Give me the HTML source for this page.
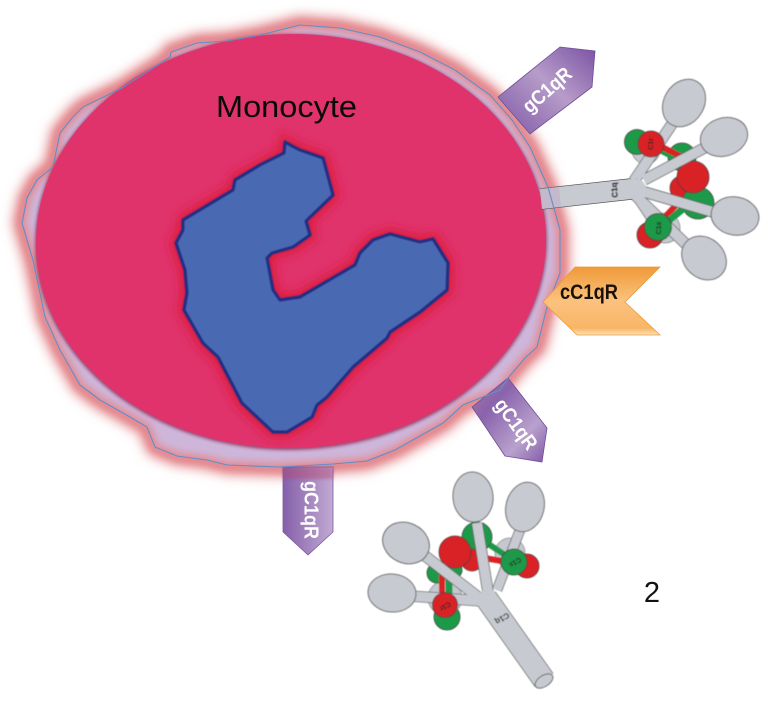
<!DOCTYPE html>
<html><head><meta charset="utf-8">
<style>html,body{margin:0;padding:0;background:#fff}svg{display:block}</style></head>
<body>
<svg width="768" height="702" viewBox="0 0 768 702" xmlns="http://www.w3.org/2000/svg" style="font-family:'Liberation Sans',sans-serif">
<defs>
<filter id="b8" x="-20%" y="-20%" width="140%" height="140%"><feGaussianBlur stdDeviation="6"/></filter>
<filter id="b4" x="-20%" y="-20%" width="140%" height="140%"><feGaussianBlur stdDeviation="3.5"/></filter>
<filter id="b3" x="-20%" y="-20%" width="140%" height="140%"><feGaussianBlur stdDeviation="5"/></filter>
<filter id="s1" x="-20%" y="-20%" width="140%" height="140%"><feGaussianBlur stdDeviation="1.5"/></filter>
<filter id="soft" x="-5%" y="-5%" width="110%" height="110%"><feGaussianBlur stdDeviation=".5"/></filter>
<linearGradient id="p1" x1="0" y1="1" x2="1" y2="0"><stop offset="0" stop-color="#7d57a6"/><stop offset=".55" stop-color="#b79cc9"/><stop offset="1" stop-color="#7b53a3"/></linearGradient>
<linearGradient id="p2" x1="0" y1="0" x2="1" y2="0"><stop offset="0" stop-color="#8560aa"/><stop offset=".6" stop-color="#a98cc2"/><stop offset="1" stop-color="#c1aad3"/></linearGradient>
<linearGradient id="p3" x1="0" y1="0" x2="1" y2="1"><stop offset="0" stop-color="#a5739f"/><stop offset=".3" stop-color="#8a63ad"/><stop offset=".7" stop-color="#b9a1cd"/><stop offset="1" stop-color="#8058a8"/></linearGradient>
<linearGradient id="o1" x1="0" y1="0" x2="0" y2="1"><stop offset="0" stop-color="#f09a38"/><stop offset=".5" stop-color="#fbc27e"/><stop offset=".9" stop-color="#f8b566"/><stop offset="1" stop-color="#fde3b8"/></linearGradient>
<path id="outer" d="M300 25L260 35L227 41L197 43L171 52L170 57L122 88L83 107L72 118L60 133L53 167L37 180L27 198L22 223L33 260L45 317L60 350L80 385L100 400L130 417L147 427L155 447L177 456L207 460L227 465L280 467L333 464L367 461L395 450L443 423L463 405L500 390L508 378L525 358L537 347L547 307L560 273L560 230L548 187L530 147L512 120L490 95L455 70L420 52L380 37L340 28Z"/>
</defs>

<!-- outer membrane glow -->
<use href="#outer" fill="#e58a8c" stroke="#e07c80" stroke-width="18" filter="url(#b8)"/>
<use href="#outer" fill="#cdb6da" filter="url(#s1)"/>
<use href="#outer" fill="none" stroke="#e58a92" stroke-width="9" filter="url(#b4)" opacity=".85"/>

<!-- receptors -->
<polygon points="283,467 333,467 333,532 308,555 283,532" fill="url(#p2)" stroke="#7a5aa0" stroke-width=".8"/>
<rect x="283" y="467" width="50" height="12" fill="#b5446f" opacity=".45" filter="url(#s1)"/>
<polygon points="472,407 508,378 547,428 542,462 505,456" fill="url(#p3)" stroke="#6d4f98" stroke-width=".8"/>
<polygon points="498,97 560,47 595,51 592,87 530,134" fill="url(#p1)" stroke="#6d4f98" stroke-width=".8"/>

<!-- cell body -->
<ellipse cx="291" cy="242" rx="256" ry="208" fill="#8a1e48" opacity=".75" filter="url(#s1)" transform="rotate(-1 291 242)"/>
<ellipse cx="291" cy="241" rx="255" ry="207" fill="#e0336c" transform="rotate(-1 291 241)"/>

<!-- right C1q stem under the membrane line -->
<path d="M541 199L640 188" fill="none" stroke="#555" stroke-width="21.4"/>
<path d="M541 199L640 188" fill="none" stroke="#c7cad1" stroke-width="20"/>
<path d="M541 199L560 197" fill="none" stroke="#c0a9c9" stroke-width="20" opacity=".55"/>

<!-- outer blue line -->
<use href="#outer" fill="none" stroke="#5f8fc8" stroke-width="1.1"/>

<!-- nucleus -->
<path d="M285 142L284 153L235 180L233 190L183 220L183 230L176 243L185 270L187 293L184 310L203 343L218 357L242 403L273 432L287 432L312 417L317 405L327 397L353 367L387 338L390 332L420 312L447 290L448 263L433 239L420 242L390 234L373 240L360 253L355 265L300 297L280 300L273 290L267 258L272 253L293 247L310 235L306 221L333 195L323 158L300 150L292 146Z" fill="#dc1f3c" stroke="#dc1f3c" stroke-width="12" filter="url(#b3)"/>
<path d="M285 142L284 153L260 165L235 180L233 190L183 220L183 230L176 243L185 270L187 293L184 310L203 343L218 357L242 403L273 432L287 432L312 417L317 405L327 397L353 367L387 338L390 332L420 312L447 290L448 263L433 239L420 242L390 234L373 240L360 253L355 265L300 297L280 300L273 290L267 258L272 253L293 247L310 235L306 221L333 195L323 158L300 150L292 146Z" fill="#4a69b3" stroke="#232f85" stroke-width="3.2" stroke-linejoin="round" filter="url(#soft)"/>

<!-- labels -->
<text x="216" y="117" font-size="31" textLength="141" lengthAdjust="spacingAndGlyphs" fill="#0a0a0a">Monocyte</text>
<text x="652" y="602" font-size="29" text-anchor="middle" fill="#111">2</text>

<text transform="translate(548 91) rotate(-41)" font-size="20" font-weight="bold" fill="#fff" text-anchor="middle" dominant-baseline="middle" textLength="58" lengthAdjust="spacingAndGlyphs">gC1qR</text>
<text transform="translate(515 425) rotate(54)" font-size="20" font-weight="bold" fill="#fff" text-anchor="middle" dominant-baseline="middle" textLength="58" lengthAdjust="spacingAndGlyphs">gC1qR</text>
<text transform="translate(310 510) rotate(90)" font-size="20" font-weight="bold" fill="#fff" text-anchor="middle" dominant-baseline="middle" textLength="58" lengthAdjust="spacingAndGlyphs">gC1qR</text>

<!-- cC1qR -->
<polygon points="575,267 660,267 625,302 660,335 577,335 543,302" fill="url(#o1)" stroke="#e99a3c" stroke-width=".8"/>
<text x="560" y="299" font-size="21" font-weight="bold" fill="#1a1208" textLength="58" lengthAdjust="spacingAndGlyphs">cC1qR</text>

<!-- right C1q -->
<g filter="url(#soft)">
<g stroke="#3a3a3a" stroke-width=".8">
<circle cx="646" cy="150" r="14" fill="#c5c8cf" stroke="#888"/>
<circle cx="665" cy="228" r="15" fill="#c5c8cf" stroke="#888"/>
<circle cx="637" cy="142" r="12.5" fill="#1f9a48"/>
<circle cx="682" cy="157" r="14" fill="#1f9a48"/>
<path d="M658 148L682 160" stroke="#1f9a48" stroke-width="8"/>
<path d="M658 145L682 157" stroke="#d92127" stroke-width="6"/>
<circle cx="682" cy="188" r="12" fill="#d92127"/>
<circle cx="698" cy="203" r="16" fill="#1f9a48"/>
<circle cx="693" cy="177" r="16" fill="#d92127"/>
<path d="M664 218L678 203" stroke="#d92127" stroke-width="6"/>
<path d="M667 222L684 208" stroke="#1f9a48" stroke-width="7"/>
</g>
<g fill="none" stroke="#555">
<path d="M636 178L676 118" stroke-width="11.4"/>
<path d="M644 180L708 146" stroke-width="11.4"/>
<path d="M641 191L713 212" stroke-width="11.4"/>
<path d="M635 195L692 250" stroke-width="11.4"/>
<path d="M632 180L662 136" stroke-width="7"/>
<path d="M636 198L664 240" stroke-width="7"/>
</g>
<g fill="none" stroke="#c7cad1">
<path d="M636 178L676 118" stroke-width="10"/>
<path d="M644 180L708 146" stroke-width="10"/>
<path d="M641 191L713 212" stroke-width="10"/>
<path d="M635 195L692 250" stroke-width="10"/>
<path d="M632 180L662 136" stroke-width="5.6"/>
<path d="M636 198L664 240" stroke-width="5.6"/>
</g>
<circle cx="636" cy="189" r="10" fill="#c7cad1"/>
<g fill="#c7cad1" stroke="#6a6a6a" stroke-width="1">
<ellipse cx="684" cy="103" rx="25" ry="20" transform="rotate(-58 684 103)"/>
<ellipse cx="724" cy="137" rx="24" ry="19" transform="rotate(-18 724 137)"/>
<ellipse cx="735" cy="216" rx="24" ry="19" transform="rotate(10 735 216)"/>
<ellipse cx="704" cy="258" rx="24" ry="20" transform="rotate(42 704 258)"/>
</g>
<g stroke="#3a3a3a" stroke-width=".8">
<circle cx="650" cy="235" r="13" fill="#d92127"/>
<circle cx="658" cy="227" r="13.5" fill="#1f9a48"/>
<circle cx="651" cy="144" r="13" fill="#d92127"/>
</g>
<g font-weight="bold" fill="#222" text-anchor="middle" dominant-baseline="middle">
<text transform="translate(615 190) rotate(-95)" font-size="8">C1q</text>
<text transform="translate(651 144) rotate(-90)" font-size="7">C1r</text>
<text transform="translate(659 228) rotate(-90)" font-size="7">C1s</text>
</g>
</g>

<!-- bottom C1q -->
<g filter="url(#soft)">
<g stroke="#3a3a3a" stroke-width=".8">
<circle cx="447" cy="617" r="13" fill="#1f9a48"/>
<circle cx="445" cy="598" r="17" fill="#c5c8cf" stroke="#888"/>
<circle cx="510" cy="553" r="15" fill="#c5c8cf" stroke="#888"/>
<circle cx="477" cy="537" r="15" fill="#1f9a48"/>
<circle cx="437" cy="573" r="10" fill="#1f9a48"/>
<circle cx="453" cy="570" r="9" fill="#1f9a48"/>
<path d="M449 576V600" stroke="#1f9a48" stroke-width="7"/>
<path d="M442 574V600" stroke="#d92127" stroke-width="6"/>
<path d="M490 545L508 557" stroke="#1f9a48" stroke-width="6"/>
<path d="M478 557L508 562" stroke="#d92127" stroke-width="6"/>
<circle cx="472" cy="560" r="11" fill="#d92127"/>
<circle cx="455" cy="552" r="16" fill="#d92127"/>
</g>
<g fill="none" stroke="#555">
<path d="M486 598L544 680" stroke-width="23"/>
<path d="M477 523L488 592" stroke-width="11.4"/>
<path d="M520 530L497 590" stroke-width="10.4"/>
<path d="M420 552L482 600" stroke-width="11.4"/>
<path d="M410 596L482 601" stroke-width="11.4"/>
</g>
<g fill="none" stroke="#c7cad1">
<path d="M486 598L544 680" stroke-width="21.6"/>
<path d="M477 523L488 592" stroke-width="10"/>
<path d="M520 530L497 590" stroke-width="9"/>
<path d="M420 552L482 600" stroke-width="10"/>
<path d="M410 596L482 601" stroke-width="10"/>
</g>
<circle cx="488" cy="598" r="9" fill="#c7cad1"/>
<g fill="#c7cad1" stroke="#6a6a6a" stroke-width="1">
<ellipse cx="473" cy="497" rx="20" ry="25" transform="rotate(-5 473 497)"/>
<ellipse cx="525" cy="507" rx="19" ry="25" transform="rotate(14 525 507)"/>
<ellipse cx="406" cy="543" rx="24" ry="20" transform="rotate(25 406 543)"/>
<ellipse cx="392" cy="593" rx="24" ry="19" transform="rotate(5 392 593)"/>
<ellipse cx="544" cy="681" rx="10" ry="5.5" transform="rotate(-33 544 681)"/>
</g>
<g stroke="#3a3a3a" stroke-width=".8">
<circle cx="445" cy="605" r="12.5" fill="#d92127"/>
<circle cx="527" cy="566" r="12" fill="#d92127"/>
<circle cx="514" cy="562" r="13" fill="#1f9a48"/>
</g>
<g font-weight="bold" fill="#222" text-anchor="middle" dominant-baseline="middle">
<text transform="translate(502 618) rotate(148)" font-size="8">C1q</text>
<text transform="translate(445 606) rotate(148)" font-size="7">C1r</text>
<text transform="translate(515 562) rotate(148)" font-size="7">C1s</text>
</g>
</g>
</svg>
</body></html>
